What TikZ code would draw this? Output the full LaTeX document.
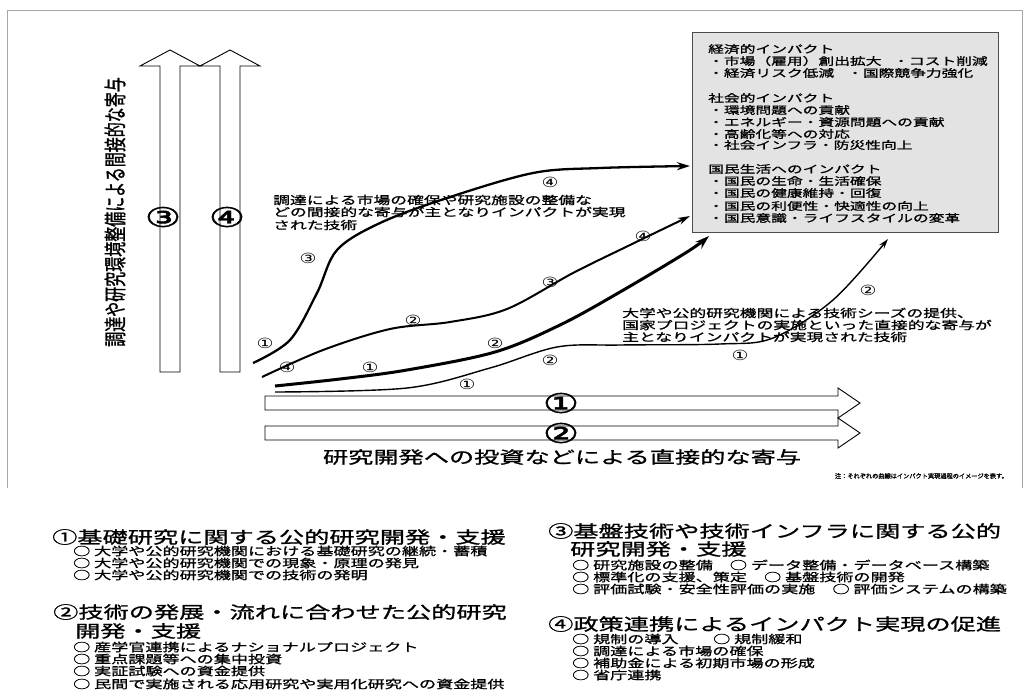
\documentclass[tikz,border=0pt]{standalone}
\usepackage{fontspec}
\newfontfamily\jp[FakeStretch=1.5]{Noto Sans CJK JP}
\newfontfamily\jpb[FakeStretch=1.5,FakeBold=1.2]{Noto Sans CJK JP}
\newfontfamily\jpv[FakeBold=1.2]{Noto Sans CJK JP}
\newfontfamily\cn[FakeStretch=1.35]{DejaVu Sans}
\newfontfamily\cnb[FakeStretch=1.5,FakeBold=1.5]{DejaVu Sans}
\usetikzlibrary{arrows.meta}
\tikzset{
  hollow/.style={draw=black, line width=0.9pt, fill=white, line join=miter},
  cnum/.style={font=\cn\fontsize{14}{14}\selectfont, inner sep=0pt},
  bignum/.style={font=\cnb\fontsize{27}{27}\selectfont, inner sep=0pt},
  boxtxt/.style={font=\jpb\fontsize{10.5}{12}\selectfont, anchor=west, inner sep=0pt},
  curvetxt/.style={font=\jpb\fontsize{11.2}{12}\selectfont, anchor=west, inner sep=0pt},
  head/.style={font=\jpb\fontsize{16.8}{17}\selectfont, anchor=west, inner sep=0pt},
  body/.style={font=\jpb\fontsize{11.4}{12}\selectfont, anchor=west, inner sep=0pt},
  curveA/.style={line width=2.3pt, -{Stealth[length=13pt,width=8pt]}},
  curveB/.style={line width=2pt, -{Stealth[length=12pt,width=7pt]}},
  curveC/.style={line width=3pt, -{Stealth[length=14pt,width=9pt]}},
  curveD/.style={line width=1.4pt, -{Stealth[length=10pt,width=6pt]}},
  frame/.style={draw=gray!70, line width=0.8pt}
}
\begin{document}
\begin{tikzpicture}[x=1pt,y=-1pt]
\useasboundingbox (0,0) rectangle (1035,697);
% frame
\draw[frame] (7,488) -- (7,10) -- (1022,10) -- (1022,488);

% impact box
\node[draw=gray!60!black, fill=gray!22, line width=0.6pt, minimum width=306pt, minimum height=200pt, anchor=north west, inner sep=0pt] (box) at (692,32) {};
\node[boxtxt] (b1) at (708,49) {経済的インパクト};
\node[boxtxt] (b2) at (708,61) {・市場（雇用）創出拡大};
\node[boxtxt] (b2b) at (893,61) {・コスト削減};
\node[boxtxt] (b3) at (708,73) {・経済リスク低減};
\node[boxtxt] (b3b) at (847,73) {・国際競争力強化};
\node[boxtxt] (b4) at (708,98) {社会的インパクト};
\node[boxtxt] (b5) at (708,110) {・環境問題への貢献};
\node[boxtxt] (b6) at (708,122) {・エネルギー・資源問題への貢献};
\node[boxtxt] (b7) at (708,134) {・高齢化等への対応};
\node[boxtxt] (b8) at (708,145) {・社会インフラ・防災性向上};
\node[boxtxt] (b9) at (708,169) {国民生活へのインパクト};
\node[boxtxt] (b10) at (708,181) {・国民の生命・生活確保};
\node[boxtxt] (b11) at (708,193) {・国民の健康維持・回復};
\node[boxtxt] (b12) at (708,206) {・国民の利便性・快適性の向上};
\node[boxtxt] (b13) at (708,218) {・国民意識・ライフスタイルの変革};

% vertical hollow arrows
\draw[hollow] (160,372) -- (160,66) -- (140,66) -- (170,50) -- (200,66) -- (180,66) -- (180,372) -- cycle;
\draw[hollow] (220,372) -- (220,66) -- (200,66) -- (230,50) -- (260,66) -- (240,66) -- (240,372) -- cycle;
\node[bignum] (v3) at (163,217) {③};
\node[bignum] (v4) at (227,217) {④};
\node (vtext) at (115,212) {\scalebox{1.5}[1]{\rotatebox{90}{\jpv\fontsize{15}{15}\selectfont 調達や研究環境整備による間接的な寄与}}};

% horizontal hollow arrows
\draw[hollow] (265,396) -- (838,396) -- (838,388) -- (860,403) -- (838,418) -- (838,410) -- (265,410) -- cycle;
\draw[hollow] (265,426) -- (838,426) -- (838,418) -- (860,433) -- (838,448) -- (838,440) -- (265,440) -- cycle;
\node[bignum] (h1n) at (561,403) {①};
\node[bignum] (h2n) at (561,433) {②};
\node[font=\jpb\fontsize{16.8}{17}\selectfont, inner sep=0pt] (htext) at (562,457) {研究開発への投資などによる直接的な寄与};
\node[font=\jpv\fontsize{6.2}{6}\selectfont, anchor=east, inner sep=0pt] (note) at (1008,476) {注：それぞれの曲線はインパクト実現過程のイメージを表す。};

% curve endpoints
\coordinate (a0) at (253,363); \coordinate (a1) at (690,166);
\coordinate (c0) at (262,377); \coordinate (c1) at (690,216);
\coordinate (d0) at (275,386); \coordinate (d1) at (709,236);
\coordinate (e0) at (275,392); \coordinate (e1) at (888,239);

\draw[curveA] plot[smooth, tension=0.55] coordinates {(a0) (290,340) (317,293) (337,250) (380,223) (447,198) (533,173) (600,168) (a1)};
\draw[curveB] plot[smooth, tension=0.55] coordinates {(c0) (323,350) (390,329) (450,322) (507,309) (573,273) (630,245) (c1)};
\draw[curveC] plot[smooth, tension=0.55] coordinates {(d0) (340,379) (407,370) (495,352) (560,325) (620,292) (687,252) (d1)};
\draw[curveD] plot[smooth, tension=0.55] coordinates {(e0) (407,388) (490,368) (557,347) (620,345) (720,344) (773,338) (833,300) (e1)};

% curve labels
\node[cnum] (la1) at (265,343) {①};
\node[cnum] (la3) at (308,258) {③};
\node[cnum] (la4) at (550,182) {④};
\node[cnum] (lb4) at (287,367) {④};
\node[cnum] (lb2) at (413,320) {②};
\node[cnum] (lb3) at (550,282) {③};
\node[cnum] (lb4b) at (643,236) {④};
\node[cnum] (lc1) at (370,367) {①};
\node[cnum] (lc2) at (495,343) {②};
\node[cnum] (ld1) at (467,384) {①};
\node[cnum] (ld2) at (550,360) {②};
\node[cnum] (ld1b) at (740,355) {①};
\node[cnum] (ld2b) at (868,290) {②};

% curve texts
\node[curvetxt] (t1) at (273,200) {調達による市場の確保や研究施設の整備な};
\node[curvetxt] (t2) at (273,212) {どの間接的な寄与が主となりインパクトが実現};
\node[curvetxt] (t3) at (273,225) {された技術};
\node[curvetxt] (s1) at (622,313) {大学や公的研究機関による技術シーズの提供、};
\node[curvetxt] (s2) at (622,325) {国家プロジェクトの実施といった直接的な寄与が};
\node[curvetxt] (s3) at (622,337) {主となりインパクトが実現された技術};

% block 1
\node[head] (k1) at (52,537) {①基礎研究に関する公的研究開発・支援};
\node[body] (k1a) at (73,551) {○ 大学や公的研究機関における基礎研究の継続・蓄積};
\node[body] (k1b) at (73,563) {○ 大学や公的研究機関での現象・原理の発見};
\node[body] (k1c) at (73,575) {○ 大学や公的研究機関での技術の発明};
% block 2
\node[head] (k2) at (53,612) {②技術の発展・流れに合わせた公的研究};
\node[head] (k2x) at (75,631) {開発・支援};
\node[body] (k2a) at (73,647) {○ 産学官連携によるナショナルプロジェクト};
\node[body] (k2b) at (73,659) {○ 重点課題等への集中投資};
\node[body] (k2c) at (73,671) {○ 実証試験への資金提供};
\node[body] (k2d) at (73,684) {○ 民間で実施される応用研究や実用化研究への資金提供};
% block 3
\node[head] (k3) at (548,531) {③基盤技術や技術インフラに関する公的};
\node[head] (k3x) at (570,549) {研究開発・支援};
\node[body] (k3a) at (572,565) {○ 研究施設の整備　○ データ整備・データベース構築};
\node[body] (k3b) at (572,577) {○ 標準化の支援、策定　○ 基盤技術の開発};
\node[body] (k3c) at (572,589) {○ 評価試験・安全性評価の実施　○ 評価システムの構築};
% block 4
\node[head] (k4) at (548,624) {④政策連携によるインパクト実現の促進};
\node[body] (k4a) at (572,639) {○ 規制の導入};
\node[body] (k4a2) at (713,639) {○ 規制緩和};
\node[body] (k4b) at (572,651) {○ 調達による市場の確保};
\node[body] (k4c) at (572,663) {○ 補助金による初期市場の形成};
\node[body] (k4d) at (572,675) {○ 省庁連携};
\end{tikzpicture}
\end{document}
